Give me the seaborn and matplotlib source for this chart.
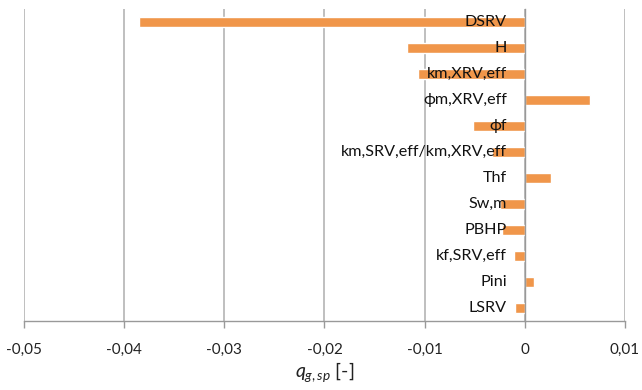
import numpy as np
import pandas as pd
import matplotlib
matplotlib.use("Agg")
import matplotlib.pyplot as plt
import seaborn as sns

# Sensitivity of specific gas rate to each input parameter
parameters = ["DSRV", "H", "km,XRV,eff", "\u03d5m,XRV,eff", "\u03d5f",
              "km,SRV,eff/km,XRV,eff", "Thf", "Sw,m", "PBHP",
              "kf,SRV,eff", "Pini", "LSRV"]
sensitivity = [-0.0385, -0.0118, -0.0107, 0.0065, -0.0052, -0.0033,
               0.0026, -0.0025, -0.0023, -0.0011, 0.0009, -0.0010]
x_ticks = [-0.05, -0.04, -0.03, -0.02, -0.01, 0.0, 0.01]
x_tick_labels = ["-0,05", "-0,04", "-0,03", "-0,02", "-0,01", "0", "0,01"]

sns.set_style("white")
plt.rcParams["font.family"] = ["Lato", "DejaVu Sans"]
plt.rcParams["mathtext.fontset"] = "custom"
plt.rcParams["mathtext.it"] = "Lato:italic"
plt.rcParams["mathtext.rm"] = "Lato"

df = pd.DataFrame({"parameter": parameters, "value": sensitivity})

fig = plt.figure(figsize=(6.42, 3.90), dpi=100)
ax = fig.add_axes([24 / 642, 1 - 321 / 390, 601 / 642, 312 / 390])

sns.barplot(data=df, x="value", y="parameter", order=parameters,
            color="#F0964A", saturation=1, width=0.41, orient="h", ax=ax)

ax.set_xlim(-0.05, 0.01)
ax.set_ylim(len(parameters) - 0.5, -0.5)

# vertical gridlines
ax.set_xticks(x_ticks)
ax.set_xticklabels(x_tick_labels, fontsize=11, color="#222222")
ax.xaxis.grid(True, color="#b4b4b4", linewidth=1.2)
ax.yaxis.grid(False)
ax.set_axisbelow(True)

# category axis placed at zero with ticks between categories
ax.spines["left"].set_position(("data", 0))
for side in ("top", "right"):
    ax.spines[side].set_visible(False)
for side in ("left", "bottom"):
    ax.spines[side].set_color("#999999")
    ax.spines[side].set_linewidth(1.0)
ax.set_yticks(np.arange(-0.5, len(parameters), 1.0))
ax.set_yticklabels([])
ax.tick_params(axis="y", direction="out", length=6, color="#999999", width=1)
ax.tick_params(axis="x", direction="out", length=5, color="#999999", width=1,
               pad=11, bottom=True)

# parameter names written beside the zero axis
for i, name in enumerate(parameters):
    ax.annotate(name, xy=(0, i), xytext=(-13, 0), textcoords="offset points",
                ha="right", va="center", fontsize=11.6, color="#111111")

ax.set_ylabel("")
ax.set_xlabel(r"$q_{g,sp}$ [-]", fontsize=14, color="#222222", labelpad=2)

fig.savefig("out.png", dpi=100)
